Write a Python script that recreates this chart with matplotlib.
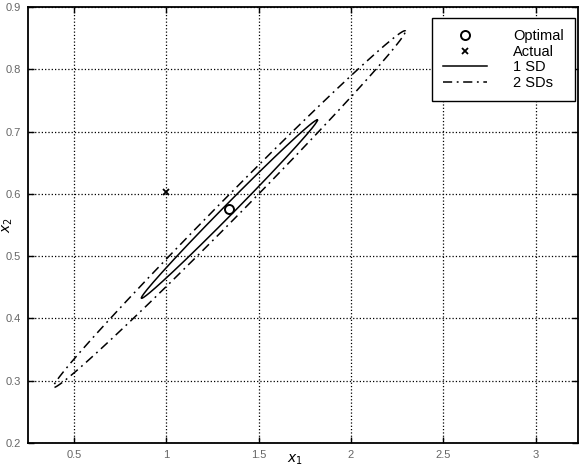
import numpy as np
import matplotlib
matplotlib.use('Agg')
import matplotlib.pyplot as plt

plt.rcParams['font.family'] = ['Liberation Sans', 'DejaVu Sans']

# estimate (optimal) and true value
optimal = [1.341, 0.5755]
actual = [1.0, 0.603]

# 1 SD spread of the estimate
sigma_x = 0.477
sigma_y = 0.1432
rho = 0.9966

sd_levels = [1, 2]
sd_labels = ['1 SD', '2 SDs']
sd_styles = ['-', (0, (6, 3, 1.2, 3))]

x_ticks = [0.5, 1, 1.5, 2, 2.5, 3]
y_ticks = [0.2, 0.3, 0.4, 0.5, 0.6, 0.7, 0.8, 0.9]


def ellipse_points(center, sx, sy, r, k, n=400):
    cov = np.array([[sx**2, r*sx*sy], [r*sx*sy, sy**2]])
    L = np.linalg.cholesky(cov)
    t = np.linspace(0, 2*np.pi, n)
    circ = np.vstack([np.cos(t), np.sin(t)])
    pts = L @ circ * k
    return center[0] + pts[0], center[1] + pts[1]


fig = plt.figure(figsize=(5.82, 4.68), dpi=100)
ax = fig.add_axes([28/582, 1 - 443/468, 550/582, 436/468])

ax.plot(optimal[0], optimal[1], 'o', mfc='white', mec='black', ms=6.5, mew=1.4,
        ls='none', label='Optimal')
ax.plot(actual[0], actual[1], 'x', color='black', ms=5, mew=1.3,
        ls='none', label='Actual')
for k, lab, st in zip(sd_levels, sd_labels, sd_styles):
    ex, ey = ellipse_points(optimal, sigma_x, sigma_y, rho, k)
    ax.plot(ex, ey, color='black', lw=1.1, ls=st, label=lab)

ax.set_xlim(0.25, 3.23)
ax.set_ylim(0.2, 0.9)
ax.set_xticks(x_ticks)
ax.set_xticklabels(['0.5', '1', '1.5', '2', '2.5', '3'])
ax.set_yticks(y_ticks)
ax.set_yticklabels(['0.2', '0.3', '0.4', '0.5', '0.6', '0.7', '0.8', '0.9'])
ax.tick_params(direction='in', top=True, right=True, length=4, width=1,
               labelsize=8, labelcolor='#666666', pad=5)
for s in ax.spines.values():
    s.set_linewidth(1.3)
ax.grid(True, ls=':', color='black', lw=0.9)

# axis labels sit right at the figure edge
fig.text(295/582, 1/468, r'$x_1$', fontsize=10, ha='center', va='bottom')
fig.text(1/582, 1 - 225/468, r'$x_2$', fontsize=10, ha='left', va='center',
         rotation=90)

leg = ax.legend(loc='upper right', bbox_to_anchor=(0.9945, 0.9748),
                fontsize=10.5, frameon=True, fancybox=False,
                edgecolor='black', framealpha=1, borderaxespad=0,
                handlelength=3.0, handletextpad=1.8, borderpad=0.75,
                labelspacing=0.12)
leg.get_frame().set_linewidth(1.0)

fig.savefig('out.png', dpi=100)
